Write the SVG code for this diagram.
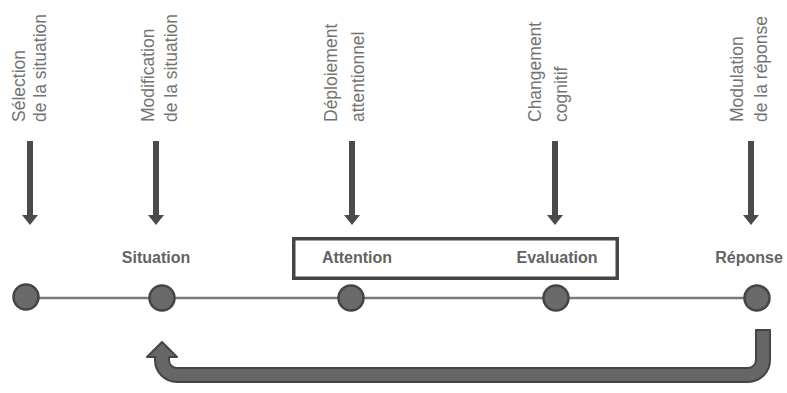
<svg xmlns="http://www.w3.org/2000/svg" width="787" height="393" viewBox="0 0 787 393">
<style>
.vt{font-family:"Liberation Sans",Arial,sans-serif;font-size:17.5px;fill:#737373}
.lb{font-family:"Liberation Sans",Arial,sans-serif;font-size:16px;font-weight:bold;fill:#636363;text-anchor:middle}
.dot{fill:#6a6a6a;stroke:#454545;stroke-width:2.5}
.arr{fill:#4b4b4b}
</style>
<rect width="787" height="393" fill="#fff"/>
<g id="connectors">
<line x1="26" y1="298" x2="757" y2="298" stroke="#7a7a7a" stroke-width="2.5"/>
<path class="arr" d="M27 141h6v74h5l-8 10l-8-10h5z"/>
<path class="arr" d="M153 141h6v74h5l-8 10l-8-10h5z"/>
<path class="arr" d="M349 141h6v74h5l-8 10l-8-10h5z"/>
<path class="arr" d="M552 141h6v74h5l-8 10l-8-10h5z"/>
<path class="arr" d="M748 141h6v74h5l-8 10l-8-10h5z"/>
<path d="M756 330L770 330L770 360A22 22 0 0 1 748 382L177 382A22 22 0 0 1 155 360L155 357L147 357L162 342L177 357L169 357L169 360A8 8 0 0 0 177 368L748 368A8 8 0 0 0 756 360Z" fill="#666" stroke="#454545" stroke-width="2" stroke-linejoin="round"/>
</g>
<g id="sel"><text class="vt" transform="translate(25,122) rotate(-90)">Sélection</text><text class="vt" transform="translate(46,122) rotate(-90)">de la situation</text></g>
<g id="mod"><text class="vt" transform="translate(154,122) rotate(-90)">Modification</text><text class="vt" transform="translate(177,122) rotate(-90)">de la situation</text></g>
<g id="dep"><text class="vt" transform="translate(337,122) rotate(-90)">Déploiement</text><text class="vt" transform="translate(364,122) rotate(-90)">attentionnel</text></g>
<g id="chg"><text class="vt" transform="translate(541,122) rotate(-90)">Changement</text><text class="vt" transform="translate(567,122) rotate(-90)">cognitif</text></g>
<g id="modr"><text class="vt" transform="translate(743,122) rotate(-90)">Modulation</text><text class="vt" transform="translate(767,122) rotate(-90)">de la réponse</text></g>
<g id="box"><rect x="293.75" y="238.75" width="323.5" height="39.5" fill="#fff" stroke="#454545" stroke-width="3.5"/></g>
<g id="situation"><text class="lb" x="156" y="263">Situation</text><circle class="dot" cx="162" cy="298" r="12.5"/></g>
<g id="attention"><text class="lb" x="357" y="263">Attention</text><circle class="dot" cx="351" cy="298" r="12.5"/></g>
<g id="evaluation"><text class="lb" x="557" y="263">Evaluation</text><circle class="dot" cx="556" cy="298" r="12.5"/></g>
<g id="reponse"><text class="lb" x="749" y="263">Réponse</text><circle class="dot" cx="757" cy="298" r="12.5"/></g>
<g id="start"><circle class="dot" cx="26" cy="297" r="12.5"/></g>
</svg>
